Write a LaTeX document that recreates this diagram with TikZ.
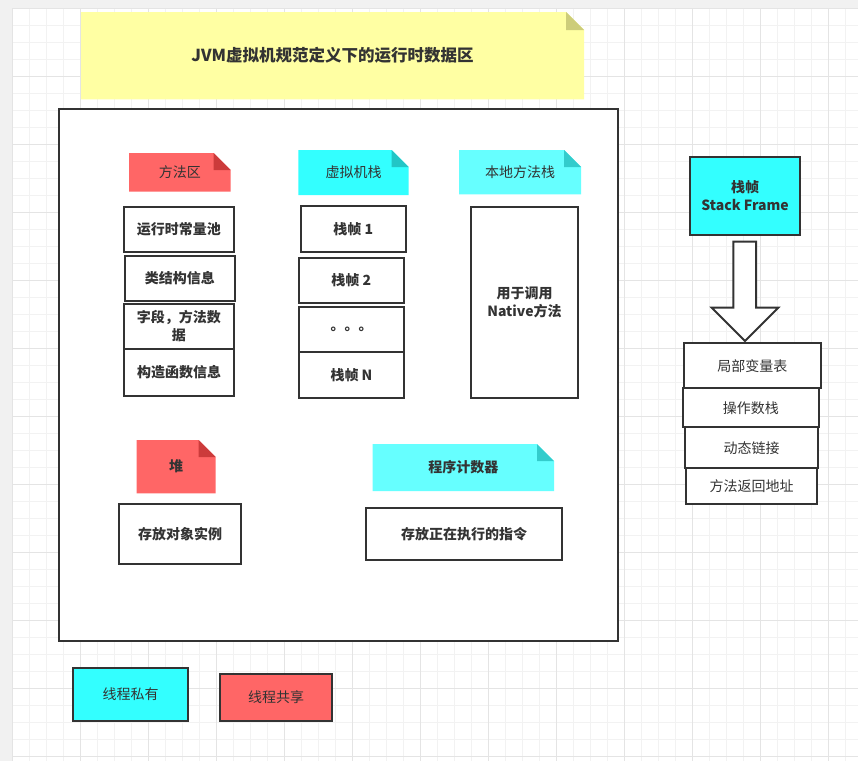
\documentclass[tikz,border=0pt]{standalone}
\usepackage{fontspec}
\setmainfont{Noto Sans CJK SC}
\usetikzlibrary{calc}
\definecolor{ink}{HTML}{333333}
\definecolor{band}{HTML}{F1F1F1}
\definecolor{gminor}{HTML}{F2F2F2}
\definecolor{gmajor}{HTML}{E4E4E4}
\definecolor{yel}{HTML}{FFFFA3}
\definecolor{yelfold}{HTML}{CDCD7A}
\definecolor{red}{HTML}{FF6666}
\definecolor{redfold}{HTML}{CC3B3B}
\definecolor{cyn}{HTML}{33FFFF}
\definecolor{cynfold}{HTML}{22C6C6}
\definecolor{lcyn}{HTML}{66FFFF}
\definecolor{lcynfold}{HTML}{33CCCC}
% name x1 y1 x2 y2 style text
\newcommand\rbox[7]{\node[#6, minimum width={(#4)-(#2)}, minimum height={(#5)-(#3)}] (#1) at (#2,#3) {#7};}
% name x1 y1 x2 y2 fill fold fontstyle text
\newcommand\fsz{17}
\newcommand\notebox[9]{%
  \fill[#6] (#2,#3) -- ({#4-\fsz},#3) -- (#4,{#3+\fsz}) -- (#4,#5) -- (#2,#5) -- cycle;
  \fill[#7] ({#4-\fsz},#3) -- ({#4-\fsz},{#3+\fsz}) -- (#4,{#3+\fsz}) -- cycle;
  \node[notetext, font=#8, minimum width={(#4)-(#2)}, minimum height={(#5)-(#3)}] (#1) at (#2,#3) {#9};}
\begin{document}
\begin{tikzpicture}[x=1pt,y=-1pt,
  regf/.style={font=\fontsize{14}{18}\selectfont},
  boldf/.style={font=\fontsize{14}{18}\selectfont\bfseries},
  box/.style={draw=ink, line width=2pt, fill=white, inner sep=0pt, outer sep=0pt, anchor=north west, text=ink, align=center, boldf},
  rbox/.style={box, regf},
  notetext/.style={inner sep=0pt, outer sep=0pt, anchor=north west, text=ink, align=center},
  minorline/.style={draw=gminor, line width=1pt},
  majorline/.style={draw=gmajor, line width=1pt}]
\useasboundingbox (0,0) rectangle (858,761);
% canvas
\fill[band] (0,0) rectangle (858,761);
\fill[white] (12.3,8.3) rectangle (858,761);
\foreach \x in {12.3,29.3,...,858} \draw[minorline] (\x,8.3) -- (\x,761);
\foreach \y in {8.3,25.3,...,761} \draw[minorline] (12.3,\y) -- (858,\y);
\foreach \x in {12.3,80.3,...,858} \draw[majorline] (\x,8.3) -- (\x,761);
\foreach \y in {8.3,76.3,...,761} \draw[majorline] (12.3,\y) -- (858,\y);

% title note
\renewcommand\fsz{18}
\notebox{title}{81}{12}{584}{99.3}{yel}{yelfold}{\fontsize{16.5}{20}\selectfont\bfseries}{JVM虚拟机规范定义下的运行时数据区}
\renewcommand\fsz{17}

% main area
\rbox{area}{58.7}{108.7}{618}{640.7}{box}{}

% notes inside area
\notebox{ma}{129}{153}{230.7}{191.7}{red}{redfold}{\fontsize{14}{18}\selectfont}{方法区}
\notebox{vs}{298.3}{150}{408.7}{195}{cyn}{cynfold}{\fontsize{14}{18}\selectfont}{虚拟机栈}
\notebox{ns}{459}{150}{581}{194.3}{lcyn}{lcynfold}{\fontsize{14}{18}\selectfont}{本地方法栈}
\notebox{heap}{136.7}{440}{215.7}{493.3}{red}{redfold}{\fontsize{14}{18}\selectfont\bfseries}{堆}
\notebox{pc}{372.7}{444}{554}{491}{lcyn}{lcynfold}{\fontsize{14}{18}\selectfont\bfseries}{程序计数器}

% method area stack
\rbox{m1}{123.7}{206.7}{234}{252.3}{box}{运行时常量池}
\rbox{m2}{124.7}{255.7}{235}{301}{box}{类结构信息}
\rbox{m3}{123.7}{303.7}{234}{349.3}{box}{字段，方法数\\据}
\rbox{m4}{124}{349.3}{234}{395.7}{box}{构造函数信息}

% VM stack
\rbox{s1}{300.7}{205.7}{405.7}{251.7}{box}{栈帧 1}
\rbox{s2}{299}{257.7}{403.7}{303.3}{box}{栈帧 2}
\rbox{s3}{299}{306.7}{404}{352}{box}{。。。}
\rbox{s4}{299}{352}{404}{397.7}{box}{栈帧 N}

% native method stack
\rbox{nm}{470.7}{206.7}{578.3}{398.3}{box}{用于调用\\Native方法}

% heap and pc
\rbox{h1}{119.3}{504.3}{240.7}{564.3}{box}{存放对象实例}
\rbox{p1}{365.7}{508.3}{562.3}{560}{box}{存放正在执行的指令}

% stack frame
\rbox{sf}{690}{157.3}{800}{234.7}{box, fill=cyn}{栈帧\\Stack Frame}
\rbox{f1}{684}{343.3}{820.7}{388.3}{rbox}{局部变量表}
\rbox{f2}{682.7}{388.3}{819}{427.3}{rbox}{操作数栈}
\rbox{f3}{685}{427.3}{818.3}{468.3}{rbox}{动态链接}
\rbox{f4}{686}{468.3}{817.3}{504.3}{rbox}{方法返回地址}

% block arrow from stack frame to its parts
\draw[draw=ink, line width=2pt, fill=white, line join=miter]
  ($(sf.south)+(-11.7,7)$) -- ($(sf.south)+(11,7)$) -- ($(sf.south)+(11,73)$)
  -- ($(sf.south)+(33.3,73)$) -- ($(f1.north)+(-7.4,-2.3)$) -- ($(sf.south)+(-33.3,73)$)
  -- ($(sf.south)+(-11.7,73)$) -- cycle;

% legend
\rbox{lg1}{73}{667.7}{188}{721}{rbox, fill=cyn}{线程私有}
\rbox{lg2}{219.9}{673.7}{332.4}{721}{rbox, fill=red}{线程共享}
\end{tikzpicture}
\end{document}
